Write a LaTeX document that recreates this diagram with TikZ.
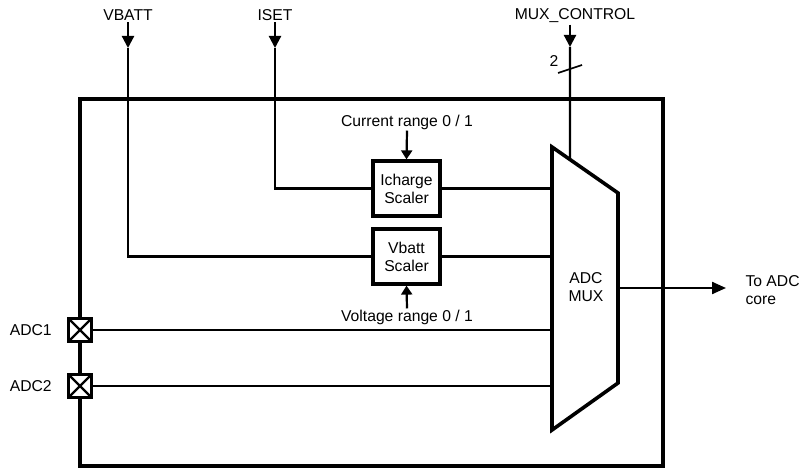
\documentclass[tikz,border=0pt]{standalone}
\usepackage{fontspec}
\setmainfont{Liberation Sans}
\usetikzlibrary{arrows.meta,calc}
\begin{document}
\begin{tikzpicture}[x=1pt,y=-1pt,
  font=\fontsize{15.7}{18}\selectfont,
  sig/.style={line width=2.2pt},
  tip/.style={-{Triangle[length=12pt,width=12pt]}},
  blk/.style={draw,line width=3.2pt,minimum width=67pt,minimum height=55pt,align=center,inner sep=0pt},
  pad/.style={draw,fill=white,line width=2.6pt,minimum size=23pt,inner sep=0pt,
    path picture={\draw[line width=2.4pt] (path picture bounding box.south west)--(path picture bounding box.north east)
      (path picture bounding box.north west)--(path picture bounding box.south east);}}]
\useasboundingbox (0,0) rectangle (800,470);
\draw[line width=3.6pt] (80,99) rectangle (663,466);
\node[inner sep=1.5pt] (vbatt) at (128,15) {VBATT};
\node[inner sep=1.5pt] (iset) at (275,15) {ISET};
\node[inner sep=1.5pt] (muxctl) at (575,16) {MUX\_CONTROL};
\node[blk] (ichg) at (406.5,188.5) {Icharge\\Scaler};
\node[blk] (vsc) at (406.5,256.5) {Vbatt\\Scaler};
\node[inner sep=1pt] (currng) at (407,122) {Current range 0 / 1};
\node[inner sep=1pt] (volrng) at (407,317) {Voltage range 0 / 1};
\node[pad] (adc1) at (80,330) {};
\node[pad] (adc2) at (80,386) {};
\node[anchor=east] (adc1lbl) at ([xshift=-12pt]adc1.west) {ADC1};
\node[anchor=east] (adc2lbl) at ([xshift=-12pt]adc2.west) {ADC2};
\coordinate (mtl) at (552,147);
\coordinate (mtr) at (618,193);
\coordinate (mbr) at (618,383);
\coordinate (mbl) at (552,430);
\draw[line width=3.6pt,line join=miter] (mtl)--(mtr)--(mbr)--(mbl)--cycle;
\node[align=center] (muxlbl) at (586,287) {ADC\\MUX};
\coordinate (mout) at ($(mtr)!0.5!(mbr)$);
\coordinate (toadc) at (726,288);
\node[anchor=west,align=left] (core) at (742,290) {To ADC\\core};
\draw[sig,-{Triangle[length=14pt,width=12pt]}] (mout) -- (toadc);
\coordinate (vbtip) at (128,48);
\draw[sig,tip] (vbatt.south) -- (vbtip);
\draw[sig] (vbtip) |- (vsc.west);
\coordinate (istip) at (275,48);
\draw[sig,tip] (iset.south) -- (istip);
\draw[sig] (istip) |- (ichg.west);
\coordinate (mctip) at (570,47);
\coordinate (mcin) at ($(mtl)!{18/66}!(mtr)$);
\draw[sig,tip] (muxctl.south -| mctip) -- (mctip);
\draw[sig] (mctip) -- (mcin);
\draw[line width=1.6pt] (558,73) -- (582,65);
\node (bus) at (554,61) {2};
\draw[sig,-{Triangle[length=9pt,width=11pt]}] (currng.south) -- (ichg.north);
\draw[sig,-{Triangle[length=9pt,width=11pt]}] (volrng.north) -- (vsc.south);
\draw[sig] (ichg.east) -- (ichg.east -| mtl);
\draw[sig] (vsc.east) -- (vsc.east -| mtl);
\draw[sig] (adc1.east) -- (adc1.east -| mtl);
\draw[sig] (adc2.east) -- (adc2.east -| mtl);
\end{tikzpicture}
\end{document}
